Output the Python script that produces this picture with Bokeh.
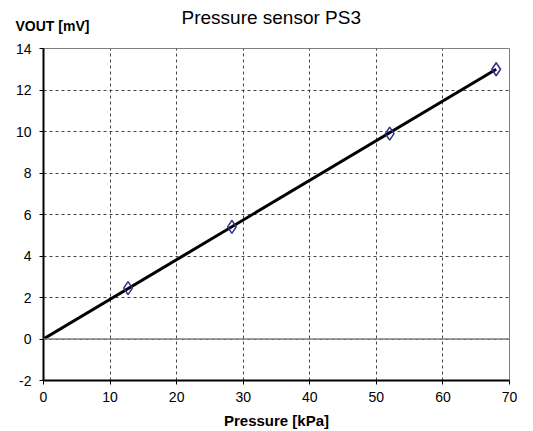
from bokeh.plotting import figure
from bokeh.models import Range1d, Span, Title, FixedTicker
from bokeh.embed import file_html
from bokeh.resources import INLINE

# data
pressure = [12.7, 28.3, 52.0, 68.0]
vout = [2.45, 5.4, 9.9, 13.0]
fit_x = [0.0, 68.0]
fit_y = [0.0, 13.0]
x_ticks = [0, 10, 20, 30, 40, 50, 60, 70]
y_ticks = [-2, 0, 2, 4, 6, 8, 10, 12, 14]
y_tick_labels = {t: str(t) for t in y_ticks}
chart_title = "Pressure sensor PS3"
y_title = "VOUT [mV]"
x_title = "Pressure [kPa]"

FONT = "Liberation Sans"

p = figure(width=533, height=431, output_backend="svg", toolbar_location=None,
           x_range=Range1d(0, 70), y_range=Range1d(-2, 14),
           min_border_left=43, min_border_right=24, min_border_top=47, min_border_bottom=51)

p.background_fill_color = "white"
p.border_fill_color = "white"
p.outline_line_color = "#808080"
p.outline_line_width = 1

p.xaxis.ticker = FixedTicker(ticks=x_ticks)
p.yaxis.ticker = FixedTicker(ticks=y_ticks)
p.yaxis.major_label_overrides = y_tick_labels
for ax in (p.xaxis[0], p.yaxis[0]):
    ax.axis_line_color = "black"
    ax.axis_line_width = 2
    ax.major_tick_line_color = "black"
    ax.major_tick_out = 4
    ax.major_tick_in = 0
    ax.minor_tick_line_color = None
    ax.major_label_text_font = FONT
    ax.major_label_text_font_size = "14px"
    ax.major_label_text_color = "black"
p.yaxis.major_label_standoff = 8
p.xaxis.major_label_standoff = 7

p.xaxis.axis_label = x_title
p.xaxis.axis_label_text_font = FONT
p.xaxis.axis_label_text_font_style = "bold"
p.xaxis.axis_label_text_font_size = "15px"
p.xaxis.axis_label_text_color = "black"
p.xaxis.axis_label_standoff = 7

p.xgrid.grid_line_color = "#444444"
p.xgrid.grid_line_dash = "3 3"
p.xgrid.grid_line_width = 1
p.ygrid.grid_line_color = "#444444"
p.ygrid.grid_line_dash = "3 3"
p.ygrid.grid_line_width = 1

p.add_layout(Span(location=0, dimension="width", line_color="#808080", line_width=1.5))

p.line(fit_x, fit_y, line_color="black", line_width=3)
p.scatter(pressure, vout, marker="diamond", size=13, fill_color=None,
          line_color="#2e2e8c", line_width=1.5)

# y-axis caption above the frame, left aligned
ylab = Title(text=y_title, align="left", offset=-28, standoff=30,
             text_font=FONT, text_font_size="14px", text_font_style="bold",
             text_color="black")
p.add_layout(ylab, "above")

p.title.text = chart_title
p.title.align = "left"
p.title.offset = 138
p.title.standoff = -54
p.title.text_font = FONT
p.title.text_font_size = "19px"
p.title.text_font_style = "normal"
p.title.text_color = "black"

open("out.html", "w").write(file_html(p, INLINE))
